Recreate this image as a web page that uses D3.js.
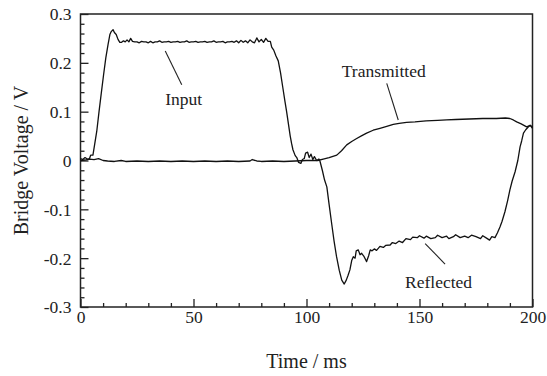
<!DOCTYPE html>
<html>
<head>
<meta charset="utf-8">
<script src="https://cdn.jsdelivr.net/npm/d3@7"></script>
<style>
  html, body { margin: 0; padding: 0; background: #fff; }
  svg { display: block; }
</style>
</head>
<body>
<svg id="chart" width="547" height="376"></svg>
<script>
// Axis ticks
const xTicks = [0, 50, 100, 150, 200];
const yTicks = [0.3, 0.2, 0.1, 0, -0.1, -0.2, -0.3];

// Incident bar gauge: input pulse followed by the reflected pulse (time ms, voltage V)
const incidentTime = [
  0, 1, 2, 3, 4, 4.5, 5.5, 6.3, 7.2, 8.2, 9.2, 10.2, 11.2, 12.2, 13, 13.6, 14.4, 15, 15.8, 16.6,
  17.4, 18.2, 19, 19.8, 20.6, 21.4, 22.2, 23, 24, 25, 26, 27, 28, 29, 30, 31, 32, 33, 34, 35,
  36, 37, 38, 39, 40, 41, 42, 43, 44, 45, 46, 47, 48, 49, 50, 51, 52, 53, 54, 55,
  56, 57, 58, 59, 60, 61, 62, 63, 64, 65, 66, 67, 68, 69, 70, 71, 72, 73, 74, 75,
  76, 77, 78, 79, 80, 81, 82, 83, 84, 84.6, 85.5, 86.5, 87.5, 88.5, 89.5, 90.5, 91.2, 92, 92.8, 93.4,
  94, 95, 95.7, 96.5, 97.5, 98.2, 99, 99.6, 100.5, 101.2, 102, 102.8, 103.5, 104.5, 105.5, 106, 107, 108, 109, 110,
  111.1, 112.2, 113.3, 114.5, 115.6, 116.7, 117.6, 118.4, 119.2, 120, 120.7, 121.5, 122, 122.9, 123.7, 124.4, 125.5, 126.6, 127.5, 128.2,
  129, 130, 131, 132.5, 134, 135, 137, 138, 139.5, 141, 142.5, 144, 146, 147, 149, 150, 152, 153, 155, 157,
  158, 160, 162, 163, 165, 166, 168, 170, 171.5, 173, 175, 177, 178, 180, 181, 182, 183.4, 184.5, 185.6, 186.5,
  187.8, 189, 190, 191, 192.3, 193.5, 194.5, 195.2, 196, 197, 198.2, 199, 200
];
const incidentVolt = [
  0.004, 0.002, 0.006, 0.003, 0.004, 0.011, 0.011, 0.034, 0.06, 0.1, 0.138, 0.175, 0.21, 0.238, 0.258, 0.264, 0.268, 0.262, 0.258, 0.248,
  0.242, 0.242, 0.245, 0.243, 0.247, 0.243, 0.25, 0.244, 0.243, 0.243, 0.241, 0.244, 0.243, 0.243, 0.241, 0.244, 0.241, 0.243, 0.243, 0.245,
  0.242, 0.243, 0.243, 0.244, 0.242, 0.243, 0.243, 0.244, 0.242, 0.243, 0.243, 0.245, 0.242, 0.243, 0.243, 0.244, 0.242, 0.243, 0.243, 0.244,
  0.242, 0.243, 0.243, 0.245, 0.242, 0.243, 0.243, 0.244, 0.241, 0.243, 0.243, 0.244, 0.242, 0.245, 0.241, 0.246, 0.242, 0.245, 0.241, 0.247,
  0.243, 0.241, 0.251, 0.243, 0.248, 0.242, 0.25, 0.244, 0.244, 0.232, 0.226, 0.214, 0.204, 0.18, 0.15, 0.12, 0.1, 0.075, 0.05, 0.035,
  0.022, 0.01, 0.006, -0.004, -0.006, 0.002, 0.004, 0.015, 0.017, 0.006, 0.013, 0.002, 0.008, 0.0, 0.003, -0.002, -0.02, -0.04, -0.054, -0.09,
  -0.128, -0.165, -0.197, -0.225, -0.245, -0.253, -0.245, -0.235, -0.224, -0.205, -0.197, -0.2, -0.185, -0.183, -0.193, -0.19, -0.197, -0.207, -0.195, -0.183,
  -0.185, -0.181, -0.184, -0.176, -0.178, -0.174, -0.173, -0.168, -0.17, -0.165, -0.168, -0.16, -0.162, -0.157, -0.158, -0.154, -0.159, -0.155, -0.16, -0.158,
  -0.153, -0.158, -0.155, -0.16, -0.156, -0.152, -0.158, -0.155, -0.158, -0.153, -0.156, -0.16, -0.154, -0.16, -0.163, -0.156, -0.158, -0.148, -0.136, -0.125,
  -0.105, -0.082, -0.06, -0.042, -0.023, 0.0, 0.028, 0.04, 0.056, 0.063, 0.069, 0.072, 0.068
];

// Transmitted bar gauge (time ms, voltage V)
const transmittedTime = [
  0, 2, 4, 6, 8, 10, 12, 15, 18, 20, 25, 30, 35, 40, 45, 50, 55, 60, 65, 70,
  75, 76, 78, 80, 85, 90, 95, 100, 105, 107.4, 110, 113.4, 115.5, 117.8, 120, 122.2, 124.5, 126.6, 129.5, 132.5,
  135.5, 138.4, 141, 144.3, 148, 152.9, 158, 162, 166, 172, 178, 184, 188, 190, 191.5, 193, 195, 197.4, 199, 200
];
const transmittedVolt = [
  0.0, 0.001, 0.003, 0.002, 0.004, 0.0, -0.001, -0.002, 0.0, -0.002, -0.001, -0.002, -0.001, -0.002, -0.001, -0.002, -0.001, -0.002, -0.001, -0.002,
  -0.001, 0.002, -0.001, -0.002, -0.001, -0.002, -0.001, 0.0, 0.0, 0.003, 0.006, 0.011, 0.02, 0.032, 0.039, 0.045, 0.051, 0.056, 0.062, 0.066,
  0.07, 0.074, 0.076, 0.078, 0.079, 0.081, 0.082, 0.083, 0.084, 0.085, 0.086, 0.086, 0.087, 0.086, 0.083, 0.079, 0.075, 0.069, 0.072, 0.066
];

// Curve annotations: label text, label anchor (data units), leader line from/to (data units)
const annotations = [
  { text: "Input",       tx: 37.5,  ty: 0.114,  x1: 37.5,  y1: 0.224, x2: 44.8,  y2: 0.155 },
  { text: "Transmitted", tx: 115.6, ty: 0.171,  x1: 135.5, y1: 0.158, x2: 140.6, y2: 0.083 },
  { text: "Reflected",   tx: 143.6, ty: -0.262, x1: 152.5, y1: -0.170, x2: 161.3, y2: -0.212 }
];

const svg = d3.select("#chart");
const margin = { left: 80.5, right: 14.5, top: 14, bottom: 69 };
const W = 547, H = 376;
const serif = '"Liberation Serif"';

const x = d3.scaleLinear().domain([0, 200]).range([margin.left, W - margin.right]);
const y = d3.scaleLinear().domain([-0.3, 0.3]).range([H - margin.bottom, margin.top]);

const fmtY = v => (Math.abs(v) < 1e-9 ? "0" : d3.format(".1f")(v).replace("\u2212", "-"));

// Minor ticks (inward)
const xMinor = d3.range(0, 201, 10).filter(v => v % 50 !== 0);
const yMinor = d3.range(-30, 31, 2).map(v => v / 100).filter(v => Math.round(v * 100) % 10 !== 0);

const gx = svg.append("g").attr("transform", `translate(0,${y(-0.3)})`)
  .call(d3.axisBottom(x).tickValues(xTicks).tickSize(-8).tickPadding(4).tickFormat(d3.format("d")));
const gxm = svg.append("g").attr("transform", `translate(0,${y(-0.3)})`)
  .call(d3.axisBottom(x).tickValues(xMinor).tickSize(-4).tickFormat(""));
const gy = svg.append("g").attr("transform", `translate(${x(0)},0)`)
  .call(d3.axisLeft(y).tickValues(yTicks).tickSize(-8).tickPadding(9).tickFormat(fmtY));
const gym = svg.append("g").attr("transform", `translate(${x(0)},0)`)
  .call(d3.axisLeft(y).tickValues(yMinor).tickSize(-4).tickFormat(""));

[gx, gxm, gy, gym].forEach(g => {
  g.attr("font-family", null).attr("font-size", null);
  g.select(".domain").remove();
  g.selectAll("line").attr("stroke", "#222").attr("stroke-width", 1.3);
  g.selectAll("text").style("font-family", serif).style("font-size", "17.5px").attr("fill", "#222");
});
gy.selectAll("text").attr("dy", "0.34em");

// Frame
svg.append("rect")
  .attr("x", x(0)).attr("y", y(0.3))
  .attr("width", x(200) - x(0)).attr("height", y(-0.3) - y(0.3))
  .attr("fill", "none").attr("stroke", "#222").attr("stroke-width", 1.5);

// Traces
const line = d3.line().x(d => x(d[0])).y(d => y(d[1]));
const incident = d3.zip(incidentTime, incidentVolt);
const transmitted = d3.zip(transmittedTime, transmittedVolt);

svg.append("path").datum(transmitted).attr("d", line)
  .attr("fill", "none").attr("stroke", "#111").attr("stroke-width", 1.3).attr("stroke-linejoin", "round");
svg.append("path").datum(incident).attr("d", line)
  .attr("fill", "none").attr("stroke", "#111").attr("stroke-width", 1.3).attr("stroke-linejoin", "round");

// Annotations
annotations.forEach(a => {
  svg.append("line")
    .attr("x1", x(a.x1)).attr("y1", y(a.y1)).attr("x2", x(a.x2)).attr("y2", y(a.y2))
    .attr("stroke", "#222").attr("stroke-width", 1.1);
  svg.append("text").attr("x", x(a.tx)).attr("y", y(a.ty))
    .style("font-family", serif).style("font-size", "17.5px").attr("fill", "#222").text(a.text);
});

// Axis titles
svg.append("text").attr("x", (x(0) + x(200)) / 2).attr("y", 368)
  .attr("text-anchor", "middle").style("font-family", serif).style("font-size", "20px")
  .attr("fill", "#222").text("Time / ms");
svg.append("text").attr("transform", `translate(28,${(y(0.3) + y(-0.3)) / 2}) rotate(-90)`)
  .attr("text-anchor", "middle").style("font-family", serif).style("font-size", "20px")
  .attr("fill", "#222").text("Bridge Voltage / V");
</script>
</body>
</html>
